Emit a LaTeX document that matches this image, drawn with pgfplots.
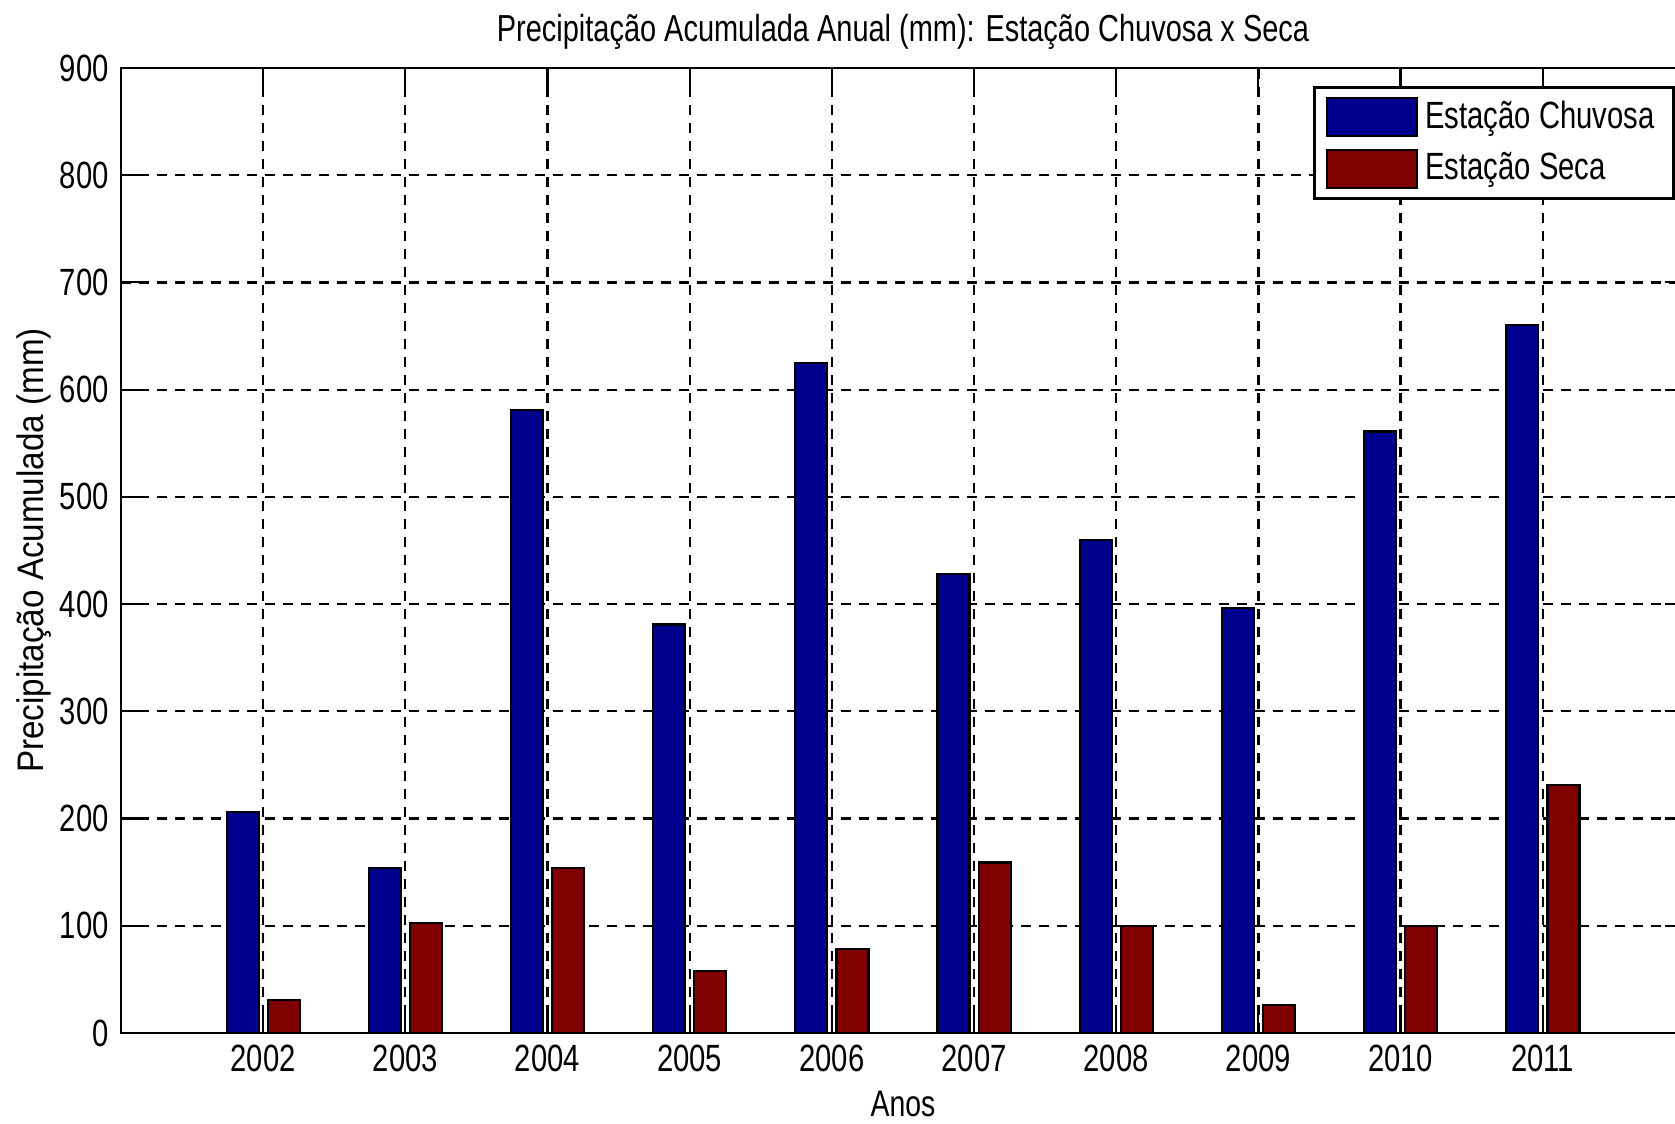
\documentclass[border=0pt]{standalone}
\usepackage{fontspec}
\setmainfont{Liberation Sans}[FakeStretch=0.77]
\newfontfamily\ylabfont{Liberation Sans}[FakeStretch=0.9]
\usepackage{pgfplots}
\usepackage{pgfplotstable}
\pgfplotsset{compat=1.18}

\definecolor{chuvosa}{RGB}{0,0,143}
\definecolor{seca}{RGB}{128,0,0}

% Precipitação acumulada por estação (mm)
\pgfplotstableread{
ano  chuvosa seca
2002 206     31
2003 154     103
2004 581     154
2005 381     58
2006 625     78
2007 428     159
2008 460     100
2009 396     26
2010 561     100
2011 660     231
}\dados

\begin{document}
\begin{tikzpicture}
\path[use as bounding box] (0,0) rectangle (16.75cm,11.24cm);
\begin{axis}[
  at={(1.21cm,0.91cm)}, anchor=south west,
  scale only axis, width=15.64cm, height=9.65cm,
  xmin=2001, xmax=2012, ymin=0, ymax=900,
  xtick={2002,...,2011}, ytick={0,100,...,900},
  x tick label style={/pgf/number format/1000 sep={}},
  /pgf/number format/assume math mode=true,
  tick align=inside, major tick length=2mm,
  tick style={black, line width=0.6pt},
  grid=major,
  major grid style={black, line width=0.65pt, dash pattern=on 1mm off 0.8mm},
  axis line style={line width=0.8pt},
  tick label style={font=\fontsize{10.8}{12}\selectfont},
  label style={font=\fontsize{10.5}{12}\selectfont},
  ylabel style={font=\fontsize{10.5}{12}\ylabfont},
  ylabel shift=-1.6mm,
  xlabel shift=-0.5mm,
  title style={font=\fontsize{10.7}{12}\selectfont, yshift=-1.5mm},
  title={Precipitação Acumulada Anual (mm): Estação Chuvosa x Seca},
  xlabel={Anos},
  ylabel={Precipitação Acumulada (mm)},
  legend style={at={(0.9935,0.981)}, anchor=north east, draw=black,
    line width=0.8pt, font=\fontsize{10.8}{12}\selectfont,
    row sep=0.5mm, inner xsep=1.2mm, inner ysep=0.6mm},
  legend cell align=left,
  legend image code/.code={\draw[#1, line width=0.6pt] (0cm,-0.19cm) rectangle (0.9cm,0.19cm);},
]
\addplot[ybar, bar width=0.225, bar shift=-0.145, fill=chuvosa, draw=black, line width=0.6pt]
  table[x=ano, y=chuvosa]{\dados};
\addlegendentry{Estação Chuvosa}
\addplot[ybar, bar width=0.225, bar shift=0.145, fill=seca, draw=black, line width=0.6pt]
  table[x=ano, y=seca]{\dados};
\addlegendentry{Estação Seca}
\end{axis}
\end{tikzpicture}
\end{document}
